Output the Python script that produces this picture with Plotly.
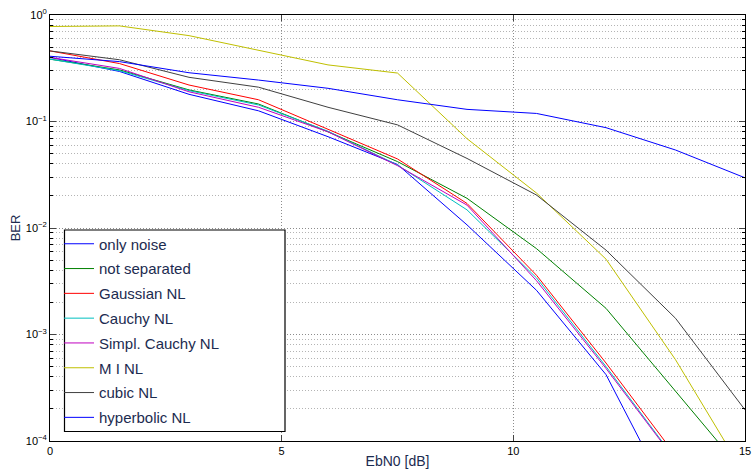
import plotly.graph_objects as go

ebn0 = [0, 1.5, 3, 4.5, 6, 7.5, 9, 10.5, 12, 13.5, 15]

only_noise     = [0.40, 0.295, 0.180, 0.126, 0.072, 0.0395, 0.0107, 0.0026, 4.2e-4, 2.3e-5, 1.0e-6]
not_separated  = [0.385, 0.305, 0.198, 0.146, 0.080, 0.042, 0.019, 0.0064, 1.76e-3, 3.0e-4, 4.9e-5]
gaussian_nl    = [0.46, 0.35, 0.220, 0.160, 0.0845, 0.0445, 0.0170, 0.0036, 5.4e-4, 7.4e-5, 1.0e-5]
cauchy_nl      = [0.385, 0.300, 0.195, 0.143, 0.081, 0.039, 0.0148, 0.0034, 5.0e-4, 6.8e-5, 9.0e-6]
simpl_cauchy   = [0.40, 0.315, 0.190, 0.136, 0.080, 0.0385, 0.0164, 0.0032, 4.8e-4, 6.6e-5, 9.0e-6]
mi_nl          = [0.78, 0.79, 0.64, 0.47, 0.34, 0.285, 0.069, 0.0213, 0.0051, 5.8e-4, 4.8e-5]
cubic_nl       = [0.46, 0.38, 0.260, 0.210, 0.136, 0.093, 0.045, 0.0204, 0.0062, 1.42e-3, 1.96e-4]
hyperbolic_nl  = [0.41, 0.365, 0.287, 0.245, 0.205, 0.160, 0.130, 0.119, 0.0875, 0.054, 0.0296]

names = ["only noise", "not separated", "Gaussian NL", "Cauchy NL",
         "Simpl. Cauchy NL", "M I NL", "cubic NL", "hyperbolic NL"]
series = [only_noise, not_separated, gaussian_nl, cauchy_nl,
          simpl_cauchy, mi_nl, cubic_nl, hyperbolic_nl]
colors = ["#0000ff", "#008000", "#ff0000", "#00bfbf",
          "#bf00bf", "#bfbf00", "#404040", "#0000ff"]

x_ticks = [0, 5, 10, 15]
y_tickvals = [1e-4, 1e-3, 1e-2, 1e-1, 1]
y_ticktext = ["10<sup>−4</sup>", "10<sup>−3</sup>", "10<sup>−2</sup>", "10<sup>−1</sup>", "10<sup>0</sup>"]
y_minor = [m * 10 ** e for e in range(-4, 0) for m in range(2, 10)]

fig = go.Figure()
for i, (n, s, c) in enumerate(zip(names, series, colors)):
    fig.add_trace(go.Scatter(x=ebn0, y=s, name=n, mode="lines",
                             line=dict(color=c, width=1), legendgroup=f"g{i}"))

font = "Liberation Sans, Arial, sans-serif"
W, H = 755, 469
L, R, T, B = 50, 10, 15, 28
pw, ph = W - L - R, H - T - B

def px2paper_x(px):
    return (px - L) / pw

def px2paper_y(py):
    return (H - B - py) / ph

fig.add_shape(type="rect", xref="paper", yref="paper",
              x0=px2paper_x(64.5), x1=px2paper_x(285), y0=px2paper_y(431.5), y1=px2paper_y(230),
              fillcolor="white", line=dict(color="black", width=1.2), layer="above")

dot = "1px,2px"
fig.update_layout(
    width=W, height=H,
    margin=dict(l=L, r=R, t=T, b=B, autoexpand=False),
    paper_bgcolor="white", plot_bgcolor="white",
    font=dict(family=font, size=11, color="black"),
    showlegend=True,
    legend=dict(x=px2paper_x(59), y=px2paper_y(227.5), xanchor="left", yanchor="top",
                bgcolor="rgba(0,0,0,0)", borderwidth=0,
                font=dict(family=font, size=15, color="#1c2b50"),
                tracegroupgap=2.3, itemwidth=30),
    xaxis=dict(range=[0, 15], tickvals=x_ticks, ticks="inside", ticklen=6,
               showline=True, linecolor="black", linewidth=1, mirror="ticks",
               showgrid=True, gridcolor="#8c8c8c", griddash=dot, gridwidth=1,
               zeroline=False, tickfont=dict(size=11, color="black"),
               automargin=False, ticklabeloverflow="allow",
               title=dict(text="EbN0 [dB]", font=dict(size=14, color="#1c2b50"), standoff=2)),
    yaxis=dict(type="log", range=[-4, 0], tickvals=y_tickvals, ticktext=y_ticktext,
               ticks="inside", ticklen=6,
               showline=True, linecolor="black", linewidth=1, mirror="ticks",
               showgrid=True, gridcolor="#8c8c8c", griddash=dot, gridwidth=1,
               zeroline=False, tickfont=dict(size=11, color="black"),
               automargin=False, ticklabeloverflow="allow",
               minor=dict(tickvals=y_minor, ticks="inside", ticklen=3, tickcolor="black",
                          showgrid=True, gridcolor="#b4b4b4", griddash=dot, gridwidth=1),
               title=dict(text="BER", font=dict(size=13, color="#1c2b50"), standoff=2)),
)

fig.write_html("out.html", config={"displayModeBar": False},
               post_script="document.body.style.margin='0';document.body.style.overflow='hidden';")
